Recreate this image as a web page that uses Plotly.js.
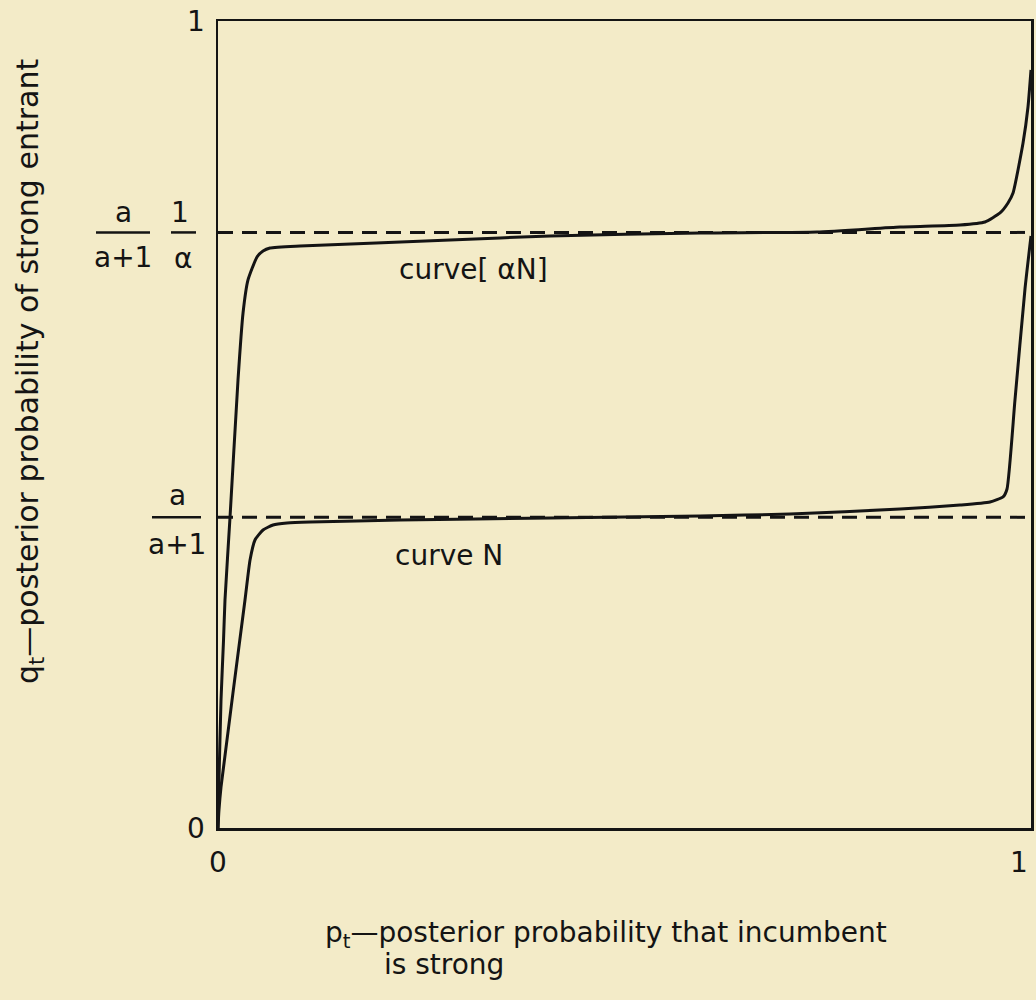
<!DOCTYPE html>
<html>
<head>
<meta charset="utf-8">
<script src="https://cdn.plot.ly/plotly-3.0.1.min.js"></script>
<style>html,body{margin:0;padding:0;background:#f3ebc8;}</style>
</head>
<body>
<div id="chart" style="width:1036px;height:1000px;"></div>
<script>
// Curve N (lower curve)
const curveNx = [0, 0.0012, 0.0037, 0.0332, 0.0394, 0.0455, 0.0554, 0.0677, 0.0849, 0.1132, 0.2239, 0.4084, 0.5929, 0.7036, 0.8389, 0.9127, 0.9496, 0.9656, 0.9705, 0.9803, 0.9926, 1.0];
const curveNy = [0, 0.0223, 0.0508, 0.2825, 0.3321, 0.3569, 0.3693, 0.3755, 0.3779, 0.3792, 0.3817, 0.3841, 0.3866, 0.3891, 0.3953, 0.4002, 0.4040, 0.4102, 0.4201, 0.5304, 0.6679, 0.7336];
// Curve [alpha N] (upper curve)
const curveANx = [0, 0.0012, 0.0037, 0.0068, 0.0086, 0.0148, 0.0246, 0.0308, 0.0369, 0.0480, 0.0554, 0.0640, 0.1009, 0.2854, 0.4084, 0.5929, 0.7368, 0.8389, 0.9127, 0.9434, 0.9619, 0.9717, 0.9779, 0.9902, 0.9963, 1.0];
const curveANy = [0, 0.0595, 0.1586, 0.2330, 0.2825, 0.3854, 0.5551, 0.6382, 0.6791, 0.7076, 0.7150, 0.7187, 0.7212, 0.7286, 0.7336, 0.7373, 0.7385, 0.7447, 0.7472, 0.7509, 0.7621, 0.7745, 0.7869, 0.8488, 0.8934, 0.9393];
// Reference levels: a/(a+1) and (1/alpha)(a/(a+1))
const levelLow = 0.385;
const levelHigh = 0.738;
const levelX = [0, 1];
const xTickVals = [0, 1];
const xTickText = ['0', '1'];
const yTickVals = [0, 1];
const yTickText = ['0', '1'];
const curveLabels = ['curve[ αN]', 'curve N'];
const xTitleLines = ['p<sub>t</sub>—posterior probability that incumbent', 'is strong'];
const yTitle = 'q<sub>t</sub>—posterior probability of strong entrant';

const ink = '#141414';
const bg = '#f3ebc8';
const FONT = 'DejaVu Sans, Liberation Sans, sans-serif';

const traces = [
  {x: levelX, y: [levelHigh, levelHigh], mode: 'lines', line: {color: ink, width: 3, dash: '15px,9px'}, hoverinfo: 'skip'},
  {x: levelX, y: [levelLow, levelLow], mode: 'lines', line: {color: ink, width: 3, dash: '15px,9px'}, hoverinfo: 'skip'},
  {x: curveANx, y: curveANy, mode: 'lines', line: {color: ink, width: 3, shape: 'spline', smoothing: 0.5}},
  {x: curveNx, y: curveNy, mode: 'lines', line: {color: ink, width: 3, shape: 'spline', smoothing: 0.5}}
];

const tf = {family: FONT, size: 28, color: ink};
function ann(text, x, y, xshift, yshift, extra) {
  return Object.assign({text: text, x: x, y: y, xref: 'x', yref: 'y', xshift: xshift, yshift: yshift,
    showarrow: false, font: tf, xanchor: 'center', yanchor: 'middle'}, extra || {});
}

const annotations = [
  // upper fraction a/(a+1)
  ann('a', 0, levelHigh, 123 - 218, 20),
  ann('a+1', 0, levelHigh, 123 - 218, -25),
  // 1/alpha
  ann('1', 0, levelHigh, 180 - 218, 20),
  ann('α', 0, levelHigh, 183 - 218, -26),
  // lower fraction a/(a+1)
  ann('a', 0, levelLow, 177 - 218, 22),
  ann('a+1', 0, levelLow, 177 - 218, -27),
  // curve labels
  ann(curveLabels[0], 0, levelHigh, 397 - 218, -37, {xanchor: 'left'}),
  ann(curveLabels[1], 0, levelLow, 393 - 218, -38, {xanchor: 'left'}),
  // axis titles
  {text: xTitleLines[0], xref: 'paper', yref: 'paper', x: 0, y: 0, xshift: 323 - 218, yshift: -(934 - 828),
   showarrow: false, font: tf, xanchor: 'left', yanchor: 'middle'},
  {text: xTitleLines[1], xref: 'paper', yref: 'paper', x: 0, y: 0, xshift: 382 - 218, yshift: -(964 - 828),
   showarrow: false, font: tf, xanchor: 'left', yanchor: 'middle'},
  {text: yTitle, xref: 'paper', yref: 'paper', x: 0, y: 0.565, xshift: 29 - 218, textangle: -90,
   showarrow: false, font: {family: FONT, size: 30, color: ink}, xanchor: 'center', yanchor: 'middle'}
];
// x tick labels (the last one sits just inside the right edge, as in the reference)
xTickVals.forEach(function (v, i) {
  const last = i === xTickVals.length - 1;
  annotations.push({text: xTickText[i], x: v, y: 0, xref: 'x', yref: 'paper', xshift: last ? -1 : 0, yshift: -34,
    showarrow: false, font: tf, xanchor: last ? 'right' : 'center', yanchor: 'middle'});
});

// fraction bars: pixel-sized lines anchored at the left axis, at the level values
function bar(level, px0, px1) {
  return {type: 'line', xref: 'paper', yref: 'y', xsizemode: 'pixel', xanchor: 0, x0: px0 - 218, x1: px1 - 218,
    y0: level, y1: level, line: {color: ink, width: 2.5}};
}
const fracBars = [bar(levelHigh, 96, 150), bar(levelHigh, 171, 196), bar(levelLow, 152, 201)];

const layout = {
  width: 1036, height: 1000,
  margin: {l: 218, r: 5, t: 21, b: 172, pad: 0},
  paper_bgcolor: bg, plot_bgcolor: bg,
  showlegend: false,
  xaxis: {range: [0, 1], showgrid: false, zeroline: false, showline: true, mirror: true, linecolor: ink, linewidth: 2.5,
    tickvals: xTickVals, ticktext: xTickText, ticks: '', showticklabels: false, fixedrange: true},
  yaxis: {range: [0, 1], showgrid: false, zeroline: false, showline: true, mirror: true, linecolor: ink, linewidth: 2.5,
    tickvals: yTickVals, ticktext: yTickText, ticks: '', tickfont: tf, ticklabelstandoff: 5, fixedrange: true},
  annotations: annotations,
  shapes: fracBars
};

Plotly.newPlot('chart', traces, layout, {displayModeBar: false, staticPlot: true});
</script>
</body>
</html>
